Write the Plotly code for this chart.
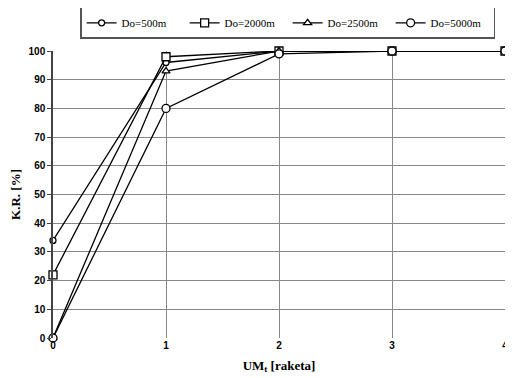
import plotly.graph_objects as go

x_vals = [0, 1, 2, 3, 4]
series_names = ["Do=500m", "Do=2000m", "Do=2500m", "Do=5000m"]
do500 = [34, 96, 100, 100, 100]
do2000 = [22, 98, 100, 100, 100]
do2500 = [0, 93, 100, 100, 100]
do5000 = [0, 80, 99, 100, 100]
x_ticks = [0, 1, 2, 3, 4]
y_ticks = list(range(0, 101, 10))

series = [do500, do2000, do2500, do5000]
symbols = ["circle", "square", "triangle-up", "circle"]
sizes = [6, 8, 7, 8]

fig = go.Figure()
for name, vals, sym, sz in zip(series_names, series, symbols, sizes):
    fig.add_trace(go.Scatter(
        x=x_vals, y=vals, name=name, mode="lines+markers",
        line=dict(color="black", width=1.3),
        marker=dict(symbol=sym, size=sz, color="white", line=dict(width=1.3, color="black")),
        cliponaxis=False,
    ))

fig.update_layout(
    width=497, height=370,
    margin=dict(l=45, r=0, t=43, b=40, autoexpand=False),
    paper_bgcolor="white", plot_bgcolor="white",
    showlegend=True,
    legend=dict(
        orientation="h", x=0.06, y=1.154, xanchor="left", yanchor="top",
        bordercolor="#555555", borderwidth=1.5,
        font=dict(family="Liberation Serif", size=11, color="black"),
        entrywidth=58, entrywidthmode="pixels", itemwidth=30,
        tracegroupgap=0,
    ),
    xaxis=dict(
        range=[0, 4], tickvals=x_ticks, ticktext=[str(t) for t in x_ticks],
        showgrid=True, gridcolor="#888888", gridwidth=1,
        showline=False, zeroline=False, ticks="", automargin=False,
        ticklabeloverflow="allow",
        tickfont=dict(family="Liberation Sans", size=10, color="black", weight="bold"),
        title=dict(text="UM<sub>t</sub> [raketa]", standoff=10,
                   font=dict(family="Liberation Serif", size=13, color="black", weight="bold")),
    ),
    yaxis=dict(
        range=[0, 100], tickvals=y_ticks, automargin=False,
        showgrid=True, gridcolor="#888888", gridwidth=1,
        showline=True, linecolor="#444444", linewidth=1.5, zeroline=False,
        ticks="outside", ticklen=4, tickcolor="#444444",
        tickfont=dict(family="Liberation Sans", size=10, color="black", weight="bold"),
        title=dict(text="K.R. [%]", standoff=8,
                   font=dict(family="Liberation Serif", size=13, color="black", weight="bold")),
    ),
)

fig.write_html("out.html")
